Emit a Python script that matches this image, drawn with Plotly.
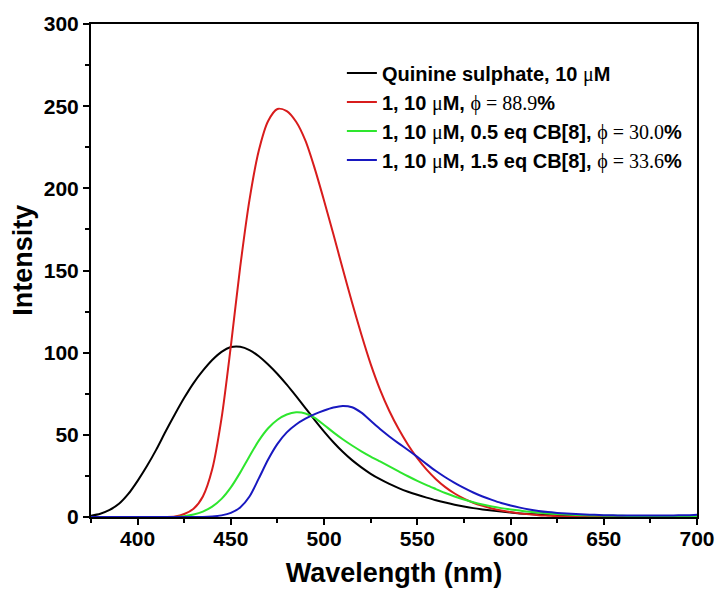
import plotly.graph_objects as go

# Emission spectra, intensity sampled every 5 nm from 375 to 700 nm
wavelength = list(range(375, 705, 5))

quinine = [0.8, 2.0, 4.3, 8.0, 14.0, 22.0, 31.0, 41.0, 52.0, 62.5,
           72.5, 81.5, 89.0, 95.5, 100.5, 103.4, 103.6, 101.6, 97.8, 92.8,
           87.0, 80.5, 73.5, 66.3, 59.0, 52.0, 45.5, 39.7, 34.6, 30.2,
           26.3, 23.0, 20.1, 17.6, 15.4, 13.5, 11.8, 10.2, 8.8, 7.5,
           6.4, 5.4, 4.6, 3.9, 3.3, 2.7, 2.2, 1.8, 1.5, 1.2,
           1.0, 0.8, 0.7, 0.6, 0.5, 0.5, 0.4, 0.4, 0.4, 0.3,
           0.3, 0.3, 0.3, 0.3, 0.3, 0.3]

compound = [0, 0, 0, 0, 0, 0, 0, 0, 0, 0.3,
            1.8, 5.0, 12.5, 29.0, 60.0, 104.0, 152.0, 193.0, 223.0, 241.0,
            248.3, 247.0, 240.5, 229.0, 212.0, 192.5, 172.0, 151.0, 130.5, 111.0,
            93.0, 77.5, 64.5, 53.5, 44.0, 35.8, 28.8, 23.0, 18.2, 14.3,
            11.2, 8.7, 6.8, 5.2, 4.0, 3.0, 2.2, 1.6, 1.1, 0.8,
            0.5, 0.35, 0.25, 0.2, 0.15, 0.1, 0.1, 0.1, 0.1, 0.1,
            0.1, 0.1, 0.1, 0.1, 0.1, 0.1]

cb8_half = [0, 0, 0, 0, 0, 0, 0, 0, 0, 0,
            0.5, 1.5, 3.3, 6.3, 11.0, 18.0, 27.0, 37.0, 46.5, 54.0,
            59.2, 62.4, 63.7, 63.0, 60.3, 56.0, 51.5, 47.3, 43.5, 40.0,
            36.8, 33.8, 30.8, 27.8, 24.8, 22.0, 19.4, 17.0, 14.6, 12.5,
            10.6, 9.0, 7.6, 6.4, 5.4, 4.6, 3.9, 3.2, 2.7, 2.2,
            1.8, 1.5, 1.2, 1.0, 0.9, 0.8, 0.7, 0.7, 0.6, 0.6,
            0.5, 0.5, 0.5, 0.5, 0.5, 0.5]

cb8_one_half = [0, 0, 0, 0, 0, 0, 0, 0, 0, 0,
                0, 0, 0, 0.3, 1.0, 2.5, 5.8, 12.5, 23.5, 35.0,
                44.5, 51.5, 56.3, 59.8, 62.6, 64.8, 66.6, 67.6, 66.8, 63.5,
                58.5, 53.5, 49.0, 44.8, 40.8, 36.6, 32.2, 28.0, 24.2, 20.8,
                17.7, 14.9, 12.5, 10.4, 8.5, 7.0, 5.7, 4.6, 3.7, 3.0,
                2.5, 2.1, 1.8, 1.5, 1.3, 1.1, 1.0, 0.9, 0.9, 0.9,
                0.9, 0.9, 0.9, 1.0, 1.1, 1.4]

SANS = "Arial, 'Liberation Sans', sans-serif"
SERIF = "font-family:'Liberation Serif','Times New Roman',serif;font-weight:normal"
MU = f"<span style=\"{SERIF}\">μ</span>"


def phi(value):
    return f"<span style=\"{SERIF}\">ϕ = {value}</span>%"


series = [
    (f"Quinine sulphate, 10 {MU}M", quinine, "#000000"),
    (f"1, 10 {MU}M, {phi('88.9')}", compound, "#d81c1c"),
    (f"1, 10 {MU}M, 0.5 eq CB[8], {phi('30.0')}", cb8_half, "#2ee62e"),
    (f"1, 10 {MU}M, 1.5 eq CB[8], {phi('33.6')}", cb8_one_half, "#1818c0"),
]

fig = go.Figure()
for name, values, color in series:
    fig.add_trace(go.Scatter(
        x=wavelength, y=values, name=name, mode="lines",
        line=dict(color=color, width=2, shape="spline", smoothing=0.8),
    ))

axis_common = dict(
    showline=True, linecolor="black", linewidth=2, mirror=True,
    ticks="outside", ticklen=6, tickwidth=2, tickcolor="black",
    showgrid=False, zeroline=False, automargin=False,
    tickfont=dict(family=SANS, size=21, color="black", weight="bold"),
)

fig.update_xaxes(
    range=[375, 700], tick0=400, dtick=50, ticklabelstandoff=-4,
    minor=dict(dtick=25, tick0=375, ticks="outside", ticklen=4,
               tickwidth=2, tickcolor="black"),
    title=dict(text="Wavelength (nm)", standoff=14,
               font=dict(family=SANS, size=27, color="black", weight="bold")),
    **axis_common,
)
fig.update_yaxes(
    range=[0, 300], tick0=0, dtick=50,
    minor=dict(dtick=25, tick0=0, ticks="outside", ticklen=4,
               tickwidth=2, tickcolor="black"),
    **axis_common,
)

fig.add_annotation(
    text="Intensity", textangle=-90, xref="paper", yref="paper",
    x=-0.112, y=0.52, xanchor="center", yanchor="middle", showarrow=False,
    font=dict(family=SANS, size=27, color="black", weight="bold"),
)

fig.update_layout(
    width=719, height=594,
    margin=dict(l=91, r=22, t=24, b=77),
    plot_bgcolor="white", paper_bgcolor="white",
    font=dict(family=SANS, color="black", weight="bold"),
    legend=dict(
        x=0.414, y=0.94, xanchor="left", yanchor="top",
        bgcolor="rgba(0,0,0,0)", borderwidth=0,
        font=dict(family=SANS, size=20, color="black", weight="bold"),
    ),
)

fig.write_html("out.html")
